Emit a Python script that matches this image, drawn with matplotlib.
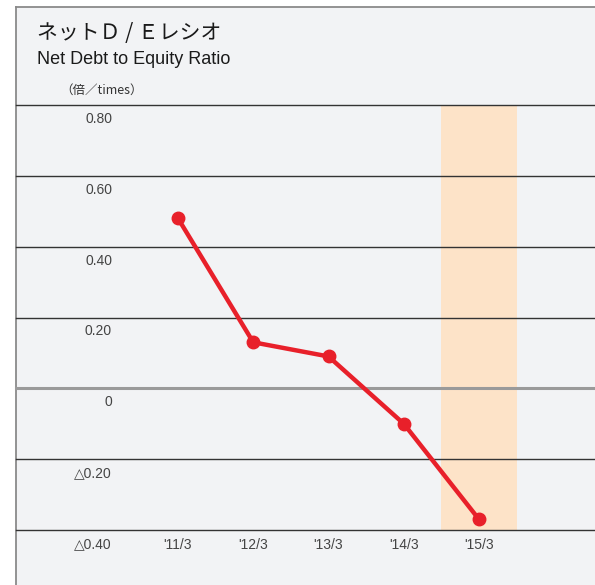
import matplotlib.pyplot as plt
from matplotlib.patches import Rectangle
from matplotlib.lines import Line2D

W, H = 595, 585

periods = ["'11/3", "'12/3", "'13/3", "'14/3", "'15/3"]
ratio = [0.48, 0.13, 0.09, -0.10, -0.37]
ytick_vals = [0.8, 0.6, 0.4, 0.2, 0.0, -0.2, -0.4]
ytick_labels = ["0.80", "0.60", "0.40", "0.20", "0", "△0.20", "△0.40"]
highlight = 4

narrow = ["Liberation Sans Narrow", "Liberation Sans", "DejaVu Sans"]
jp = ["Noto Sans CJK JP", "DejaVu Sans"]

fig = plt.figure(figsize=(W / 100, H / 100), dpi=100, facecolor="white")

# panel background with left/top border
bg = "#f2f3f5"
fig.patches.append(Rectangle((16 / W, 0), 1 - 16 / W, 1 - 7 / H, transform=fig.transFigure,
                             facecolor=bg, edgecolor="none", zorder=-5))
fig.lines.append(Line2D([16 / W, 16 / W], [0, 1 - 7 / H], transform=fig.transFigure,
                        color="#8a8a8a", lw=1.3, zorder=-4))
fig.lines.append(Line2D([16 / W, 1], [1 - 7 / H, 1 - 7 / H], transform=fig.transFigure,
                        color="#8a8a8a", lw=1.3, zorder=-4))

# axes: data area from y=105px to y=530px
ax = fig.add_axes([16 / W, 1 - 530 / H, 1 - 16 / W, (530 - 105) / H])
ax.set_zorder(2)
ax.set_facecolor("none")
x = list(range(len(periods)))
step = 75.25
ax.set_xlim((16 - 178) / step, (595 - 178) / step)
ax.set_ylim(-0.4, 0.8)
for s in ax.spines.values():
    s.set_visible(False)
ax.set_xticks([])
ax.set_yticks([])

ax.axvspan(highlight - 0.5, highlight + 0.5, color="#fde3c8", zorder=1, lw=0)

for v, lab in zip(ytick_vals, ytick_labels):
    if v == 0:
        ax.axhline(v, color="#9a9a9a", lw=2.2, zorder=2, clip_on=False)
    else:
        ax.axhline(v, color="#333333", lw=1.0, zorder=2, clip_on=False)
    ax.annotate(lab, xy=(112, v), xycoords=("figure pixels", "data"),
                xytext=(0, -5), textcoords="offset points", ha="right", va="top",
                fontsize=10, color="#444444", family=narrow, annotation_clip=False)

ax.plot(x, ratio, color="#e8202a", lw=3.2, marker="o", markersize=9, zorder=4,
        solid_capstyle="round", clip_on=False)

for xi, lab in zip(x, periods):
    ax.annotate(lab, xy=(xi, -0.4), xytext=(0, -6), textcoords="offset points",
                ha="center", va="top", fontsize=10, color="#444444", family=narrow,
                annotation_clip=False)

fig.text(37 / W, 1 - 33 / H, "ネットＤ / Ｅレシオ", fontsize=15, color="#1a1a1a",
         family=jp, va="center", ha="left")
fig.text(37 / W, 1 - 60 / H, "Net Debt to Equity Ratio", fontsize=13, color="#1a1a1a",
         family=narrow, va="center", ha="left")
fig.text(60 / W, 1 - 90 / H, "（倍／times）", fontsize=9, color="#333333",
         family=jp, va="center", ha="left")

fig.savefig("out.png", dpi=100, facecolor="white")
